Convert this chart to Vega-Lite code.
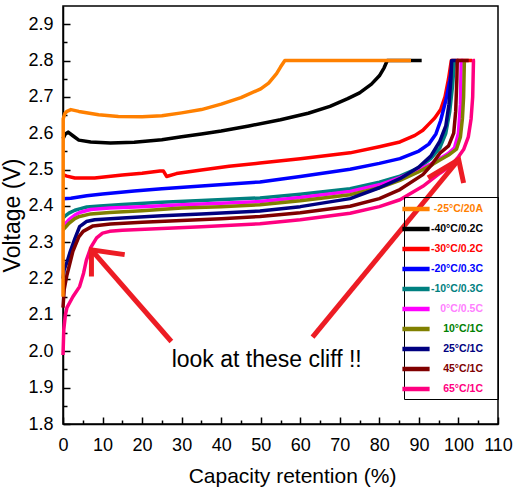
{
  "$schema": "https://vega.github.io/schema/vega-lite/v6.json",
  "width": 435,
  "height": 418,
  "autosize": "none",
  "padding": {"left": 63, "top": 6, "right": 17, "bottom": 70},
  "background": "white",
  "config": {
    "font": "Liberation Sans",
    "view": {"stroke": "#000000", "strokeWidth": 1.5},
    "axis": {"grid": false, "domainColor": "#000000", "domainWidth": 1.5, "tickColor": "#000000", "tickWidth": 1.5, "labelColor": "#000000", "titleColor": "#000000", "labelFlush": false, "labelOverlap": false},
    "legend": {"strokeColor": "#000000", "strokeWidth": 1}
  },
  "resolve": {"axis": {"x": "independent", "y": "independent"}},
  "datasets": {
    "curves": [
      {"s":"-40°C/0.2C","cap":0,"volt":2.585},{"s":"-40°C/0.2C","cap":0.6,"volt":2.598},{"s":"-40°C/0.2C","cap":1.3,"volt":2.603},{"s":"-40°C/0.2C","cap":2.5,"volt":2.593},{"s":"-40°C/0.2C","cap":4,"volt":2.581},{"s":"-40°C/0.2C","cap":7,"volt":2.576},{"s":"-40°C/0.2C","cap":12,"volt":2.573},{"s":"-40°C/0.2C","cap":18,"volt":2.575},{"s":"-40°C/0.2C","cap":25,"volt":2.582},{"s":"-40°C/0.2C","cap":30,"volt":2.59},{"s":"-40°C/0.2C","cap":35,"volt":2.598},{"s":"-40°C/0.2C","cap":40,"volt":2.606},{"s":"-40°C/0.2C","cap":47,"volt":2.62},{"s":"-40°C/0.2C","cap":55,"volt":2.637},{"s":"-40°C/0.2C","cap":62,"volt":2.655},{"s":"-40°C/0.2C","cap":67.5,"volt":2.674},{"s":"-40°C/0.2C","cap":72,"volt":2.695},{"s":"-40°C/0.2C","cap":75,"volt":2.711},{"s":"-40°C/0.2C","cap":78,"volt":2.735},{"s":"-40°C/0.2C","cap":80,"volt":2.758},{"s":"-40°C/0.2C","cap":81.2,"volt":2.78},{"s":"-40°C/0.2C","cap":82,"volt":2.8},{"s":"-40°C/0.2C","cap":90.7,"volt":2.8},

      {"s":"-30°C/0.2C","cap":0,"volt":2.486},{"s":"-30°C/0.2C","cap":1,"volt":2.482},{"s":"-30°C/0.2C","cap":3,"volt":2.477},{"s":"-30°C/0.2C","cap":8,"volt":2.477},{"s":"-30°C/0.2C","cap":15,"volt":2.485},{"s":"-30°C/0.2C","cap":20,"volt":2.49},{"s":"-30°C/0.2C","cap":24.5,"volt":2.496},{"s":"-30°C/0.2C","cap":25.4,"volt":2.496},{"s":"-30°C/0.2C","cap":26.2,"volt":2.481},{"s":"-30°C/0.2C","cap":28.7,"volt":2.489},{"s":"-30°C/0.2C","cap":35,"volt":2.499},{"s":"-30°C/0.2C","cap":42,"volt":2.509},{"s":"-30°C/0.2C","cap":49.8,"volt":2.518},{"s":"-30°C/0.2C","cap":60,"volt":2.53},{"s":"-30°C/0.2C","cap":72.6,"volt":2.546},{"s":"-30°C/0.2C","cap":80,"volt":2.563},{"s":"-30°C/0.2C","cap":85.2,"volt":2.576},{"s":"-30°C/0.2C","cap":89,"volt":2.594},{"s":"-30°C/0.2C","cap":91,"volt":2.608},{"s":"-30°C/0.2C","cap":92.5,"volt":2.625},{"s":"-30°C/0.2C","cap":94,"volt":2.642},{"s":"-30°C/0.2C","cap":95.5,"volt":2.665},{"s":"-30°C/0.2C","cap":96.6,"volt":2.7},{"s":"-30°C/0.2C","cap":97.5,"volt":2.75},{"s":"-30°C/0.2C","cap":98.2,"volt":2.8},{"s":"-30°C/0.2C","cap":103.5,"volt":2.8},

      {"s":"-20°C/0.3C","cap":0,"volt":2.42},{"s":"-20°C/0.3C","cap":2,"volt":2.421},{"s":"-20°C/0.3C","cap":6,"volt":2.428},{"s":"-20°C/0.3C","cap":10,"volt":2.433},{"s":"-20°C/0.3C","cap":18,"volt":2.441},{"s":"-20°C/0.3C","cap":25,"volt":2.447},{"s":"-20°C/0.3C","cap":35,"volt":2.455},{"s":"-20°C/0.3C","cap":49.8,"volt":2.466},{"s":"-20°C/0.3C","cap":60,"volt":2.481},{"s":"-20°C/0.3C","cap":72.6,"volt":2.501},{"s":"-20°C/0.3C","cap":80,"volt":2.517},{"s":"-20°C/0.3C","cap":85.2,"volt":2.53},{"s":"-20°C/0.3C","cap":90,"volt":2.551},{"s":"-20°C/0.3C","cap":92.5,"volt":2.57},{"s":"-20°C/0.3C","cap":94.3,"volt":2.598},{"s":"-20°C/0.3C","cap":95.5,"volt":2.635},{"s":"-20°C/0.3C","cap":96.8,"volt":2.69},{"s":"-20°C/0.3C","cap":97.8,"volt":2.745},{"s":"-20°C/0.3C","cap":98.6,"volt":2.8},

      {"s":"-10°C/0.3C","cap":0,"volt":2.367},{"s":"-10°C/0.3C","cap":0.5,"volt":2.372},{"s":"-10°C/0.3C","cap":1.5,"volt":2.38},{"s":"-10°C/0.3C","cap":3,"volt":2.388},{"s":"-10°C/0.3C","cap":4.2,"volt":2.392},{"s":"-10°C/0.3C","cap":6,"volt":2.397},{"s":"-10°C/0.3C","cap":9.3,"volt":2.4},{"s":"-10°C/0.3C","cap":15,"volt":2.404},{"s":"-10°C/0.3C","cap":25,"volt":2.41},{"s":"-10°C/0.3C","cap":35,"volt":2.415},{"s":"-10°C/0.3C","cap":49.8,"volt":2.422},{"s":"-10°C/0.3C","cap":60,"volt":2.432},{"s":"-10°C/0.3C","cap":72.6,"volt":2.447},{"s":"-10°C/0.3C","cap":80,"volt":2.465},{"s":"-10°C/0.3C","cap":85.2,"volt":2.482},{"s":"-10°C/0.3C","cap":90,"volt":2.505},{"s":"-10°C/0.3C","cap":93,"volt":2.53},{"s":"-10°C/0.3C","cap":95.3,"volt":2.56},{"s":"-10°C/0.3C","cap":96.8,"volt":2.6},{"s":"-10°C/0.3C","cap":97.8,"volt":2.66},{"s":"-10°C/0.3C","cap":98.5,"volt":2.73},{"s":"-10°C/0.3C","cap":99,"volt":2.8},

      {"s":"0°C/0.5C","cap":0,"volt":2.342},{"s":"0°C/0.5C","cap":0.5,"volt":2.35},{"s":"0°C/0.5C","cap":1.5,"volt":2.362},{"s":"0°C/0.5C","cap":3,"volt":2.375},{"s":"0°C/0.5C","cap":4.2,"volt":2.382},{"s":"0°C/0.5C","cap":7,"volt":2.39},{"s":"0°C/0.5C","cap":11.8,"volt":2.394},{"s":"0°C/0.5C","cap":20,"volt":2.398},{"s":"0°C/0.5C","cap":30,"volt":2.403},{"s":"0°C/0.5C","cap":40,"volt":2.407},{"s":"0°C/0.5C","cap":49.8,"volt":2.412},{"s":"0°C/0.5C","cap":60,"volt":2.423},{"s":"0°C/0.5C","cap":72.6,"volt":2.44},{"s":"0°C/0.5C","cap":80,"volt":2.458},{"s":"0°C/0.5C","cap":85.2,"volt":2.478},{"s":"0°C/0.5C","cap":90,"volt":2.5},{"s":"0°C/0.5C","cap":93,"volt":2.515},{"s":"0°C/0.5C","cap":95.3,"volt":2.53},{"s":"0°C/0.5C","cap":97.5,"volt":2.545},{"s":"0°C/0.5C","cap":99,"volt":2.56},{"s":"0°C/0.5C","cap":100,"volt":2.6},{"s":"0°C/0.5C","cap":100.5,"volt":2.68},{"s":"0°C/0.5C","cap":100.7,"volt":2.8},{"s":"0°C/0.5C","cap":101.2,"volt":2.8},

      {"s":"10°C/1C","cap":0,"volt":2.334},{"s":"10°C/1C","cap":0.5,"volt":2.34},{"s":"10°C/1C","cap":1.5,"volt":2.352},{"s":"10°C/1C","cap":3,"volt":2.365},{"s":"10°C/1C","cap":4.2,"volt":2.371},{"s":"10°C/1C","cap":7,"volt":2.378},{"s":"10°C/1C","cap":11.8,"volt":2.382},{"s":"10°C/1C","cap":20,"volt":2.387},{"s":"10°C/1C","cap":30,"volt":2.394},{"s":"10°C/1C","cap":40,"volt":2.398},{"s":"10°C/1C","cap":49.8,"volt":2.403},{"s":"10°C/1C","cap":60,"volt":2.414},{"s":"10°C/1C","cap":72.6,"volt":2.431},{"s":"10°C/1C","cap":80,"volt":2.45},{"s":"10°C/1C","cap":85.2,"volt":2.47},{"s":"10°C/1C","cap":90,"volt":2.494},{"s":"10°C/1C","cap":93.6,"volt":2.515},{"s":"10°C/1C","cap":95.3,"volt":2.526},{"s":"10°C/1C","cap":97.5,"volt":2.54},{"s":"10°C/1C","cap":99.5,"volt":2.556},{"s":"10°C/1C","cap":100.5,"volt":2.59},{"s":"10°C/1C","cap":101,"volt":2.64},{"s":"10°C/1C","cap":101.3,"volt":2.7},{"s":"10°C/1C","cap":101.5,"volt":2.8},

      {"s":"25°C/1C","cap":0,"volt":2.2},{"s":"25°C/1C","cap":0.3,"volt":2.225},{"s":"25°C/1C","cap":1,"volt":2.245},{"s":"25°C/1C","cap":1.7,"volt":2.27},{"s":"25°C/1C","cap":3,"volt":2.31},{"s":"25°C/1C","cap":4.2,"volt":2.343},{"s":"25°C/1C","cap":5.9,"volt":2.357},{"s":"25°C/1C","cap":8,"volt":2.362},{"s":"25°C/1C","cap":15,"volt":2.367},{"s":"25°C/1C","cap":25,"volt":2.373},{"s":"25°C/1C","cap":35,"volt":2.378},{"s":"25°C/1C","cap":49.8,"volt":2.386},{"s":"25°C/1C","cap":60,"volt":2.398},{"s":"25°C/1C","cap":72.6,"volt":2.42},{"s":"25°C/1C","cap":80,"volt":2.45},{"s":"25°C/1C","cap":85.2,"volt":2.475},{"s":"25°C/1C","cap":90,"volt":2.507},{"s":"25°C/1C","cap":93,"volt":2.537},{"s":"25°C/1C","cap":95.3,"volt":2.578},{"s":"25°C/1C","cap":96.8,"volt":2.62},{"s":"25°C/1C","cap":97.6,"volt":2.68},{"s":"25°C/1C","cap":98.1,"volt":2.75},{"s":"25°C/1C","cap":98.3,"volt":2.8},{"s":"25°C/1C","cap":100,"volt":2.8},

      {"s":"45°C/1C","cap":0,"volt":2.12},{"s":"45°C/1C","cap":0.3,"volt":2.17},{"s":"45°C/1C","cap":1,"volt":2.21},{"s":"45°C/1C","cap":2.5,"volt":2.275},{"s":"45°C/1C","cap":4,"volt":2.315},{"s":"45°C/1C","cap":5.1,"volt":2.33},{"s":"45°C/1C","cap":7.6,"volt":2.345},{"s":"45°C/1C","cap":12,"volt":2.35},{"s":"45°C/1C","cap":20,"volt":2.355},{"s":"45°C/1C","cap":30,"volt":2.36},{"s":"45°C/1C","cap":40,"volt":2.365},{"s":"45°C/1C","cap":49.8,"volt":2.371},{"s":"45°C/1C","cap":60,"volt":2.381},{"s":"45°C/1C","cap":72.6,"volt":2.399},{"s":"45°C/1C","cap":80,"volt":2.42},{"s":"45°C/1C","cap":85.2,"volt":2.445},{"s":"45°C/1C","cap":91,"volt":2.486},{"s":"45°C/1C","cap":93,"volt":2.51},{"s":"45°C/1C","cap":95.3,"volt":2.545},{"s":"45°C/1C","cap":97.5,"volt":2.565},{"s":"45°C/1C","cap":98.8,"volt":2.6},{"s":"45°C/1C","cap":99.3,"volt":2.66},{"s":"45°C/1C","cap":99.6,"volt":2.75},{"s":"45°C/1C","cap":99.7,"volt":2.8},{"s":"45°C/1C","cap":102.6,"volt":2.8},

      {"s":"65°C/1C","cap":0,"volt":1.99},{"s":"65°C/1C","cap":0.2,"volt":2.06},{"s":"65°C/1C","cap":0.6,"volt":2.1},{"s":"65°C/1C","cap":1,"volt":2.12},{"s":"65°C/1C","cap":2.5,"volt":2.15},{"s":"65°C/1C","cap":4.2,"volt":2.178},{"s":"65°C/1C","cap":5.2,"volt":2.215},{"s":"65°C/1C","cap":5.9,"volt":2.25},{"s":"65°C/1C","cap":7,"volt":2.285},{"s":"65°C/1C","cap":8.5,"volt":2.312},{"s":"65°C/1C","cap":10,"volt":2.325},{"s":"65°C/1C","cap":11.8,"volt":2.33},{"s":"65°C/1C","cap":15,"volt":2.333},{"s":"65°C/1C","cap":25,"volt":2.338},{"s":"65°C/1C","cap":35,"volt":2.343},{"s":"65°C/1C","cap":49.8,"volt":2.351},{"s":"65°C/1C","cap":60,"volt":2.362},{"s":"65°C/1C","cap":72.6,"volt":2.38},{"s":"65°C/1C","cap":80,"volt":2.398},{"s":"65°C/1C","cap":85.2,"volt":2.417},{"s":"65°C/1C","cap":91,"volt":2.454},{"s":"65°C/1C","cap":95.3,"volt":2.49},{"s":"65°C/1C","cap":97.9,"volt":2.509},{"s":"65°C/1C","cap":100,"volt":2.535},{"s":"65°C/1C","cap":101.3,"volt":2.555},{"s":"65°C/1C","cap":102.5,"volt":2.59},{"s":"65°C/1C","cap":103.2,"volt":2.64},{"s":"65°C/1C","cap":103.6,"volt":2.7},{"s":"65°C/1C","cap":103.8,"volt":2.8},{"s":"65°C/1C","cap":104.2,"volt":2.8},

      {"s":"-25°C/20A","cap":0,"volt":2.15},{"s":"-25°C/20A","cap":0.05,"volt":2.64},{"s":"-25°C/20A","cap":0.5,"volt":2.655},{"s":"-25°C/20A","cap":1,"volt":2.66},{"s":"-25°C/20A","cap":2,"volt":2.665},{"s":"-25°C/20A","cap":4,"volt":2.66},{"s":"-25°C/20A","cap":9,"volt":2.651},{"s":"-25°C/20A","cap":14,"volt":2.646},{"s":"-25°C/20A","cap":20,"volt":2.645},{"s":"-25°C/20A","cap":25,"volt":2.648},{"s":"-25°C/20A","cap":30,"volt":2.656},{"s":"-25°C/20A","cap":35,"volt":2.665},{"s":"-25°C/20A","cap":40,"volt":2.68},{"s":"-25°C/20A","cap":45,"volt":2.698},{"s":"-25°C/20A","cap":50,"volt":2.722},{"s":"-25°C/20A","cap":52,"volt":2.738},{"s":"-25°C/20A","cap":54,"volt":2.764},{"s":"-25°C/20A","cap":55,"volt":2.782},{"s":"-25°C/20A","cap":56.1,"volt":2.8},{"s":"-25°C/20A","cap":70,"volt":2.8},{"s":"-25°C/20A","cap":88,"volt":2.8}
    ],
    "arrows": [
      {"seg":"a1s","k":0,"cap":27.4,"volt":2.027},{"seg":"a1s","k":1,"cap":7.19,"volt":2.279},
      {"seg":"a1h","k":0,"cap":7.19,"volt":2.206},{"seg":"a1h","k":1,"cap":7.19,"volt":2.279},{"seg":"a1h","k":2,"cap":15.6,"volt":2.266},
      {"seg":"a2s","k":0,"cap":63.1,"volt":2.039},{"seg":"a2s","k":1,"cap":100.05,"volt":2.527},
      {"seg":"a2h","k":0,"cap":92.3,"volt":2.477},{"seg":"a2h","k":1,"cap":100.05,"volt":2.527},{"seg":"a2h","k":2,"cap":101.3,"volt":2.463}
    ],
    "notes": [
      {"cap":51.5,"volt":1.958,"t":"look at these cliff !!"}
    ]
  },
  "layer": [
    {
      "data": {"name": "curves"},
      "mark": {"type": "line", "strokeWidth": 3.5, "strokeJoin": "round"},
      "encoding": {
        "x": {
          "field": "cap", "type": "quantitative",
          "scale": {"domain": [0, 110], "nice": false, "zero": false},
          "axis": {
            "orient": "bottom",
            "values": [0,10,20,30,40,50,60,70,80,90,100,110],
            "tickSize": -7,
            "labelPadding": 19,
            "labelFont": "Liberation Sans", "labelFontSize": 18,
            "title": "Capacity retention (%)",
            "titleFont": "Liberation Sans", "titleFontSize": 21, "titleFontWeight": "normal",
            "titlePadding": 11, "titleX": 229
          }
        },
        "y": {
          "field": "volt", "type": "quantitative",
          "scale": {"domain": [1.8, 2.95], "nice": false, "zero": false},
          "axis": {
            "orient": "left",
            "values": [1.8,1.9,2.0,2.1,2.2,2.3,2.4,2.5,2.6,2.7,2.8,2.9],
            "format": ".1f",
            "tickSize": -7,
            "labelPadding": 17,
            "labelFont": "Liberation Sans", "labelFontSize": 18,
            "title": "Voltage (V)",
            "titleFont": "Liberation Sans", "titleFontSize": 23, "titleFontWeight": "normal",
            "titlePadding": 3
          }
        },
        "color": {
          "field": "s", "type": "nominal",
          "scale": {
            "domain": ["-25°C/20A","-40°C/0.2C","-30°C/0.2C","-20°C/0.3C","-10°C/0.3C","0°C/0.5C","10°C/1C","25°C/1C","45°C/1C","65°C/1C"],
            "range": ["#ff8000","#000000","#ff0000","#0000ff","#008080","#ff00ff","#808000","#000080","#800000","#ff0080"]
          },
          "legend": {
            "orient": "none", "legendX": 341, "legendY": 191,
            "title": null,
            "padding": 1,
            "symbolType": "M-1.6,0H1.6M8.4,0H8.4",
            "symbolSize": 289,
            "symbolStrokeWidth": 4.5,
            "symbolOffset": 0,
            "rowPadding": 0,
            "labelFont": "Liberation Sans", "labelFontWeight": "bold", "labelFontSize": 10.5,
            "labelAlign": "right",
            "encode": {
              "labels": {
                "update": {
                  "x": {"value": 78},
                  "fill": {"signal": "datum.value === '0°C/0.5C' ? '#ff80ff' : datum.value === '10°C/1C' ? '#008000' : scale('color', datum.value)"}
                }
              }
            }
          }
        }
      }
    },
    {
      "data": {"name": "arrows"},
      "mark": {"type": "line", "strokeWidth": 5, "color": "#ed1c24", "strokeJoin": "miter", "strokeCap": "butt"},
      "encoding": {
        "x": {"field": "cap", "type": "quantitative", "scale": {"domain": [0, 110], "nice": false, "zero": false}, "axis": null},
        "y": {"field": "volt", "type": "quantitative", "scale": {"domain": [1.8, 2.95], "nice": false, "zero": false}, "axis": null},
        "detail": {"field": "seg", "type": "nominal"},
        "order": {"field": "k", "type": "quantitative"}
      }
    },
    {
      "data": {"name": "notes"},
      "mark": {"type": "text", "font": "Liberation Sans", "fontSize": 23, "align": "center", "baseline": "alphabetic", "color": "#000000"},
      "encoding": {
        "x": {"field": "cap", "type": "quantitative", "scale": {"domain": [0, 110], "nice": false, "zero": false}, "axis": null},
        "y": {"field": "volt", "type": "quantitative", "scale": {"domain": [1.8, 2.95], "nice": false, "zero": false}, "axis": null},
        "text": {"field": "t", "type": "nominal"}
      }
    },
    {
      "data": {"name": "notes"},
      "mark": {"type": "point", "opacity": 0},
      "encoding": {
        "x": {"field": "cap", "type": "quantitative", "scale": {"domain": [0, 110], "nice": false, "zero": false},
          "axis": {"orient": "bottom", "values": [5,15,25,35,45,55,65,75,85,95,105], "tickSize": -4, "labels": false, "domain": false, "title": null}},
        "y": {"field": "volt", "type": "quantitative", "scale": {"domain": [1.8, 2.95], "nice": false, "zero": false},
          "axis": {"orient": "left", "values": [1.85,1.95,2.05,2.15,2.25,2.35,2.45,2.55,2.65,2.75,2.85], "tickSize": -4, "labels": false, "domain": false, "title": null}}
      }
    }
  ]
}
